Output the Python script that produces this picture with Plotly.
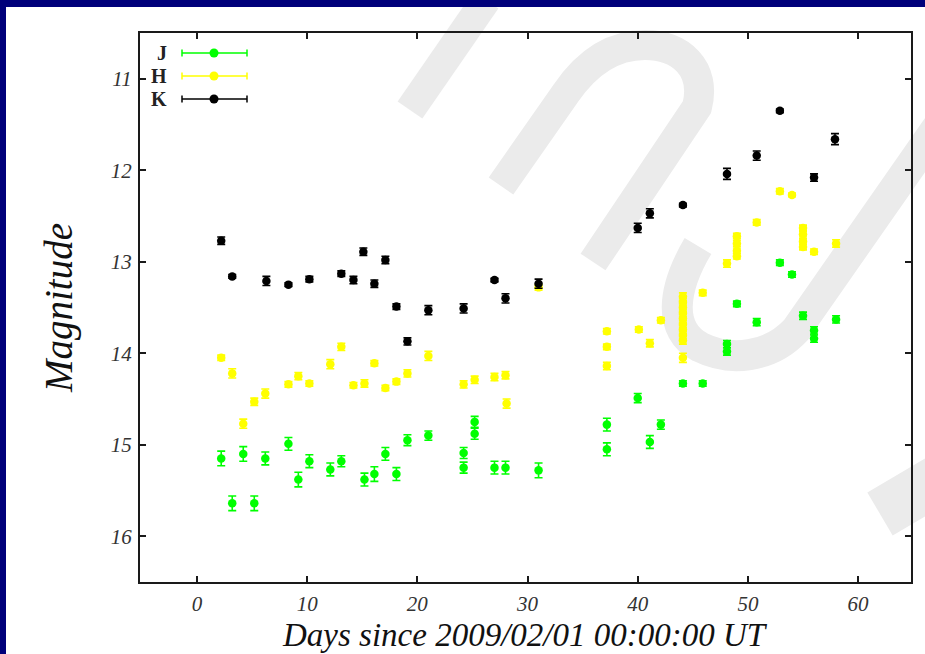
import plotly.graph_objects as go

# ---------------- data ----------------
J_days = [2.2, 3.2, 4.2, 5.2, 6.2, 8.3, 9.2, 10.2, 12.1, 13.1, 15.2, 16.1, 17.1, 18.1, 19.1, 21.0,
          24.2, 24.2, 25.2, 25.2, 27.0, 28.0, 31.0, 37.2, 37.2, 40.0, 41.1, 42.1, 44.1, 45.9,
          48.1, 48.1, 49.0, 50.8, 52.9, 54.0, 55.0, 56.0, 56.0, 58.0]
J_mag = [15.15, 15.64, 15.10, 15.64, 15.15, 14.99, 15.38, 15.18, 15.27, 15.18, 15.38, 15.32, 15.10, 15.32, 14.95, 14.90,
         15.09, 15.25, 14.75, 14.88, 15.25, 15.25, 15.28, 14.78, 15.05, 14.49, 14.97, 14.78, 14.33, 14.33,
         13.90, 13.98, 13.46, 13.66, 13.01, 13.14, 13.59, 13.75, 13.84, 13.63]
J_err = [0.08, 0.08, 0.08, 0.08, 0.07, 0.07, 0.08, 0.07, 0.07, 0.06, 0.07, 0.08, 0.07, 0.07, 0.06, 0.05,
         0.06, 0.06, 0.06, 0.06, 0.07, 0.07, 0.08, 0.07, 0.07, 0.05, 0.07, 0.05, 0.03, 0.03,
         0.04, 0.04, 0.03, 0.04, 0.03, 0.03, 0.04, 0.04, 0.04, 0.04]

H_days = [2.2, 3.2, 4.2, 5.2, 6.2, 8.3, 9.2, 10.2, 12.1, 13.1, 14.2, 15.2, 16.1, 17.1, 18.1, 19.1, 21.0,
          24.2, 25.2, 27.0, 28.0, 28.1, 31.0, 37.2, 37.2, 37.2, 40.1, 41.1, 42.1,
          44.1, 44.1, 44.1, 44.1, 44.1, 44.1, 44.1, 44.1, 44.1, 44.1, 45.9, 48.1,
          49.0, 49.0, 49.0, 49.0, 50.8, 52.9, 54.0, 55.0, 55.0, 55.0, 55.0, 56.0, 58.0]
H_mag = [14.05, 14.22, 14.77, 14.53, 14.44, 14.34, 14.25, 14.33, 14.12, 13.93, 14.35, 14.33, 14.11, 14.38, 14.31, 14.22, 14.03,
         14.34, 14.29, 14.26, 14.24, 14.55, 13.28, 13.76, 13.93, 14.14, 13.74, 13.89, 13.64,
         13.38, 13.44, 13.50, 13.56, 13.62, 13.68, 13.74, 13.80, 13.86, 14.05, 13.34, 13.02,
         12.72, 12.80, 12.88, 12.94, 12.57, 12.23, 12.27, 12.63, 12.70, 12.78, 12.84, 12.89, 12.80]
H_err = [0.03, 0.05, 0.05, 0.04, 0.05, 0.03, 0.04, 0.03, 0.05, 0.04, 0.03, 0.04, 0.03, 0.03, 0.03, 0.04, 0.05,
         0.04, 0.04, 0.04, 0.04, 0.05, 0.03, 0.03, 0.03, 0.04, 0.03, 0.04, 0.03,
         0.04, 0.04, 0.04, 0.04, 0.04, 0.04, 0.04, 0.04, 0.04, 0.05, 0.03, 0.04,
         0.03, 0.03, 0.03, 0.03, 0.03, 0.03, 0.02, 0.03, 0.03, 0.03, 0.03, 0.03, 0.04]

K_days = [2.2, 3.2, 6.3, 8.3, 10.2, 13.1, 14.2, 15.1, 16.1, 17.1, 18.1, 19.1, 21.0, 24.2, 27.0, 28.0, 31.0,
          40.0, 41.1, 44.1, 48.1, 50.8, 52.9, 56.0, 57.9]
K_mag = [12.77, 13.16, 13.21, 13.25, 13.19, 13.13, 13.20, 12.89, 13.24, 12.98, 13.49, 13.87, 13.53, 13.51, 13.20, 13.40, 13.24,
         12.63, 12.47, 12.38, 12.04, 11.84, 11.35, 12.08, 11.66]
K_err = [0.04, 0.02, 0.05, 0.02, 0.03, 0.03, 0.04, 0.04, 0.04, 0.04, 0.03, 0.04, 0.05, 0.05, 0.02, 0.05, 0.05,
         0.05, 0.05, 0.02, 0.06, 0.05, 0.02, 0.04, 0.06]

band_names = ["J", "H", "K"]
band_colors = ["#00ff00", "#ffff00", "#000000"]
x_ticks = [0, 10, 20, 30, 40, 50, 60]
y_ticks = [11, 12, 13, 14, 15, 16]
x_title = "Days since 2009/02/01 00:00:00 UT"
y_title = "Magnitude"

# ---------------- layout geometry (pixels) ----------------
W, H = 925, 654
L, R, T, B = 140, 14, 33, 72
PW, PH = W - L - R, H - T - B


def px(x):
    return (x - L) / PW


def py(y):
    return (H - B - y) / PH


def pt(x, y):
    return f"{px(x):.5f},{py(y):.5f}"


fig = go.Figure()

series = [(J_days, J_mag, J_err), (H_days, H_mag, H_err), (K_days, K_mag, K_err)]
for name, col, (xs, ys, es) in zip(band_names, band_colors, series):
    fig.add_trace(go.Scatter(
        x=xs, y=ys, mode="markers", name=name, showlegend=False,
        marker=dict(color=col, size=8.5, line=dict(width=0)),
        error_y=dict(type="data", array=es, visible=True, color=col, thickness=1.6, width=4),
    ))

shapes = []
wm = "#ebebeb"
# slide watermark (decorative background strokes)
wm_paths = [
    [("M", 410, 110), ("L", 486, 0)],
    [("M", 501, 186), ("L", 566, 93), ("C", 590, 58), ("", 618, 45), ("", 645, 45),
     ("C", 680, 45), ("", 707, 68), ("", 697, 107), ("L", 593, 262)],
    [("M", 698, 246), ("C", 672, 290), ("", 668, 330), ("", 700, 347),
     ("C", 730, 362), ("", 770, 358), ("", 796, 330), ("L", 960, 95)],
    [("M", 880, 514), ("L", 960, 467)],
]
wm_widths = [30, 30, 31, 50]
for segs, lw in zip(wm_paths, wm_widths):
    d = " ".join(f"{c} {pt(a, b)}" if c else pt(a, b) for c, a, b in segs)
    shapes.append(dict(type="path", path=d, xref="paper", yref="paper",
                       line=dict(color=wm, width=lw), layer="below"))

# slide frame (navy left and top edges)
navy = "#00007a"
shapes.append(dict(type="rect", xref="paper", yref="paper", x0=px(0), x1=px(6), y0=py(H), y1=py(0),
                   fillcolor=navy, line=dict(width=0), layer="above"))
shapes.append(dict(type="rect", xref="paper", yref="paper", x0=px(0), x1=px(W), y0=py(7), y1=py(0),
                   fillcolor=navy, line=dict(width=0), layer="above"))

# legend samples
annotations = []
leg_y = [53, 76, 99]
for name, col, yy in zip(band_names, band_colors, leg_y):
    lc = col
    shapes.append(dict(type="line", xref="paper", yref="paper", x0=px(182), x1=px(247), y0=py(yy), y1=py(yy),
                       line=dict(color=lc, width=1.5), layer="above"))
    for xe in (182, 247):
        shapes.append(dict(type="line", xref="paper", yref="paper", x0=px(xe), x1=px(xe), y0=py(yy - 3.5), y1=py(yy + 3.5),
                           line=dict(color=lc, width=1.5), layer="above"))
    shapes.append(dict(type="circle", xref="paper", yref="paper", x0=px(214 - 4.5), x1=px(214 + 4.5),
                       y0=py(yy + 4.5), y1=py(yy - 4.5), fillcolor=col, line=dict(width=0), layer="above"))
    annotations.append(dict(text=f"<b>{name}</b>", xref="paper", yref="paper", x=px(169), y=py(yy),
                            xanchor="right", yanchor="middle", showarrow=False,
                            font=dict(family="Liberation Serif", size=20, color="#222")))

annotations.append(dict(text=y_title, xref="paper", yref="paper", x=px(59), y=py(308), textangle=-90,
                        xanchor="center", yanchor="middle", showarrow=False,
                        font=dict(family="Liberation Serif", size=39, style="italic", color="#111")))
annotations.append(dict(text=x_title, xref="paper", yref="paper", x=px(525), y=py(653.5),
                        xanchor="center", yanchor="bottom", showarrow=False, borderpad=0,
                        font=dict(family="Liberation Serif", size=33, style="italic", color="#111")))

axis_common = dict(showline=True, linewidth=2, linecolor="#1a1a1a", mirror="ticks", ticks="inside",
                   ticklen=6, tickwidth=2, tickcolor="#1a1a1a", showgrid=False, zeroline=False,
                   tickfont=dict(family="Liberation Serif", size=21, style="italic", color="#333"))

fig.update_layout(
    width=W, height=H,
    margin=dict(l=L, r=R, t=T, b=B),
    paper_bgcolor="white", plot_bgcolor="rgba(0,0,0,0)",
    xaxis=dict(range=[-5.17, 64.8], tickvals=x_ticks, ticklabelstandoff=2, **axis_common),
    yaxis=dict(range=[16.5, 10.5], tickvals=y_ticks, ticklabelstandoff=2, **axis_common),
    shapes=shapes, annotations=annotations, showlegend=False,
)

fig.write_html("out.html")
